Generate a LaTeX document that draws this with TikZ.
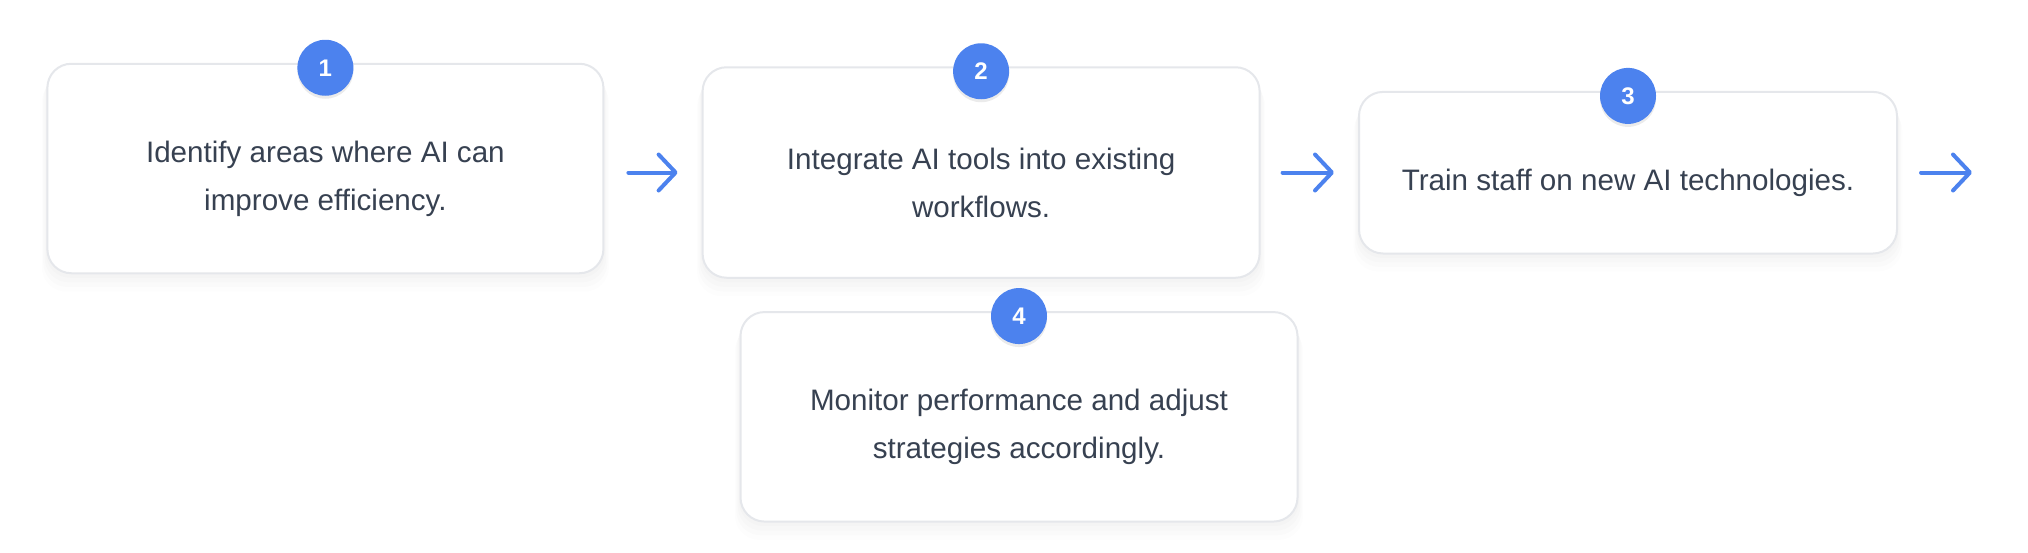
\documentclass[tikz,border=0pt]{standalone}
\usepackage{fontspec}
\setmainfont{Liberation Sans}
\usepackage{xcolor}
\usetikzlibrary{arrows.meta, shadows}
\definecolor{stepblue}{RGB}{76,130,238}
\definecolor{steptext}{RGB}{55,65,81}
\definecolor{stepborder}{RGB}{229,231,235}
\tikzset{
  stepbox/.style={rectangle, rounded corners=12pt, draw=stepborder, line width=1pt, fill=white,
    drop shadow={shadow xshift=0pt, shadow yshift=-2pt, shadow scale=1.005, opacity=0.012, fill=black},
    drop shadow={shadow xshift=0pt, shadow yshift=-4pt, shadow scale=1.01, opacity=0.012, fill=black},
    drop shadow={shadow xshift=0pt, shadow yshift=-6pt, shadow scale=1.015, opacity=0.01, fill=black},
    drop shadow={shadow xshift=0pt, shadow yshift=-8pt, shadow scale=1.02, opacity=0.008, fill=black}},
  steplabel/.style={text=steptext, align=center, inner sep=0pt, font=\fontsize{14.8}{24}\selectfont},
  badge/.style={circle, fill=stepblue, minimum size=28pt, inner sep=0pt, text=white,
    font=\fontsize{12}{12}\selectfont\bfseries,
    drop shadow={shadow xshift=0pt, shadow yshift=-1.5pt, opacity=0.08, fill=black}},
  flow/.style={draw=stepblue, line width=2pt, line cap=round,
    -{Straight Barb[length=8.5pt, width=18pt, round]}}
}
\begin{document}
\begin{tikzpicture}[x=0.5pt, y=-0.5pt]
        \useasboundingbox (0,0) rectangle (2028,552);
        % Boxes
        \node (b1) [stepbox, minimum width=278pt, minimum height=104.75pt] at (325.4,168.5) {};
        \node (b2) [stepbox, minimum width=278.5pt, minimum height=105.25pt] at (981.1,172.5) {};
        \node (b3) [stepbox, minimum width=269pt, minimum height=80.8pt] at (1628,172.7) {};
        \node (b4) [stepbox, minimum width=278.5pt, minimum height=104.75pt] at (1019,416.8) {};

        % Texts
        \node (t1) [steplabel] at ([yshift=-5pt]b1.center) {Identify areas where AI can\\improve efficiency.};
        \node (t2) [steplabel] at ([yshift=-5pt]b2.center) {Integrate AI tools into existing\\workflows.};
        \node (t3) [steplabel] at ([yshift=-5pt]b3.center) {Train staff on new AI technologies.};
        \node (t4) [steplabel] at ([yshift=-5pt]b4.center) {Monitor performance and adjust\\strategies accordingly.};

        % Numbers
        \node (n1) [badge] at ([yshift=-2.5pt]b1.north) {1};
        \node (n2) [badge] at ([yshift=-2.5pt]b2.north) {2};
        \node (n3) [badge] at ([yshift=-2.5pt]b3.north) {3};
        \node (n4) [badge] at ([yshift=-2.5pt]b4.north) {4};

        % Paths
        \coordinate (out) at (1972,172.5);
        \draw [flow] ([xshift=12pt]b1.east |- b2.west) -- ([xshift=-12pt]b2.west);
        \draw [flow] ([xshift=11pt]b2.east) -- ([xshift=-12pt]b3.west |- b2.east);
        \draw [flow] ([xshift=11.5pt]b3.east |- out) -- (out);
\end{tikzpicture}
\end{document}
